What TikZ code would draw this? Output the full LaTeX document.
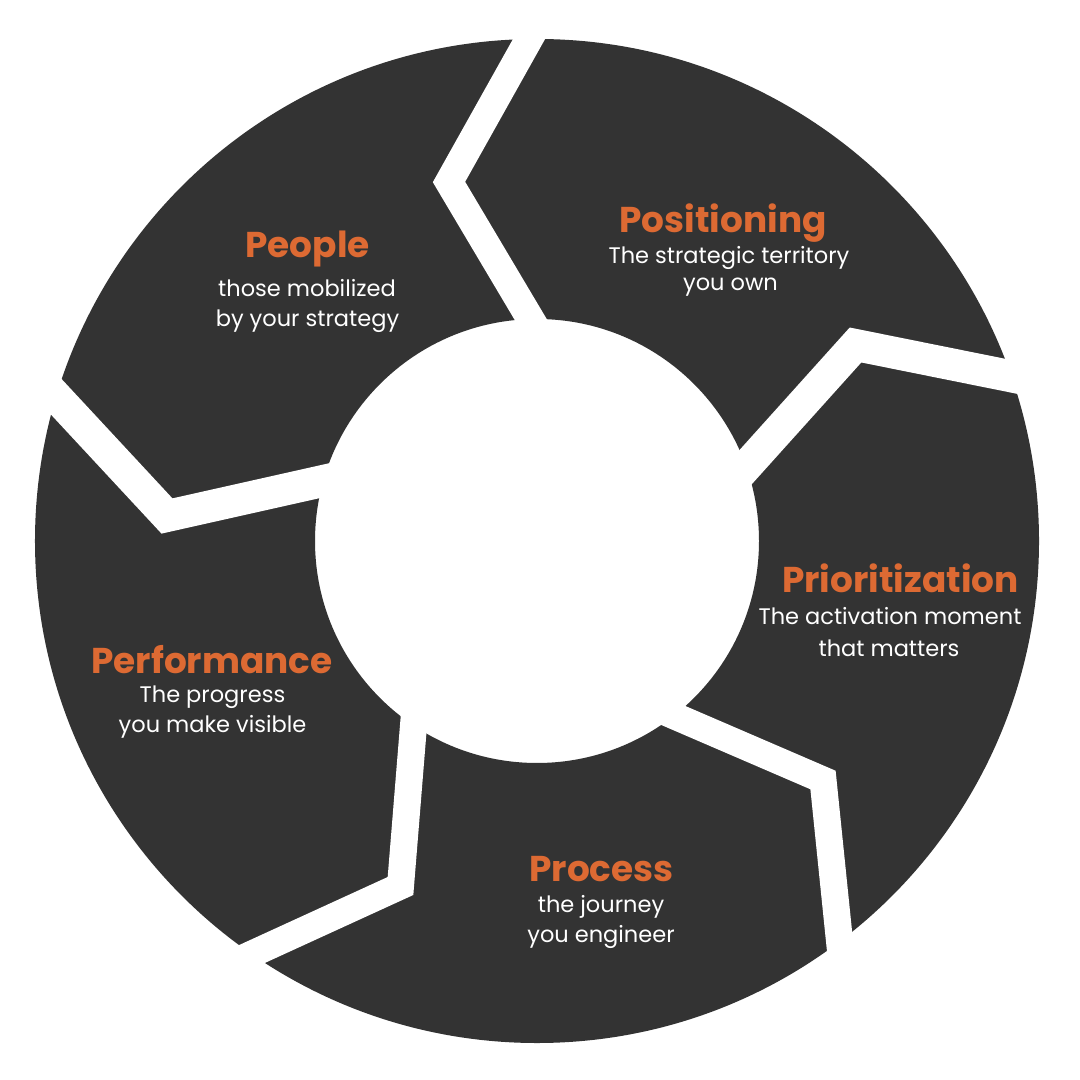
\documentclass[tikz,border=0pt]{standalone}
\usepackage{fontspec}
\setmainfont{Poppins}
\usetikzlibrary{calc}
\definecolor{ringgray}{HTML}{333333}
\definecolor{labelorange}{HTML}{DD6A33}
\tikzset{
  segtitle/.style={text=labelorange, anchor=base, inner sep=0pt,
                   font=\fontsize{10.2}{12}\selectfont\bfseries},
  segsub/.style={text=white, anchor=base, inner sep=0pt,
                 font=\fontsize{6.4}{8}\selectfont},
}

\begin{document}
\begin{tikzpicture}[x=0.01cm,y=0.01cm]

    \useasboundingbox (-537,-539) rectangle (543,541);

    \fill[ringgray, even odd rule] (0,0) circle (502) (0,0) circle (222);

    % white chevron gaps between the five parts
    \foreach \ox/\oy/\mx/\my/\ix/\iy/\w in {
        -8.5/501/-88/359/-6/221/28,
        477.5/164/318.5/196/211/76.5/32,
        303/-405/286/-239/137.5/-175/27,
        -285/-413/-136.5/-345/-123.5/-184.5/27,
        -481/144.5/-370/25/-214/60/32}{
      \coordinate (o) at (\ox,\oy);
      \coordinate (m) at (\mx,\my);
      \coordinate (i) at (\ix,\iy);
      \draw[white, line width=\w*0.01cm, line join=miter]
        ($(m)!1.35!(o)$) -- (m) -- ($(m)!1.5!(i)$);
    }

    \node[segtitle] (postitle) at (186,308) {Positioning};
    \node[segsub] (possubA) at (192,277) {The strategic territory};
    \node[segsub] (possubB) at (193.5,250) {you own};

    \node[segtitle] (pritle) at (363.5,-52) {Prioritization};
    \node[segsub] (prisubA) at (353,-84) {The activation moment};
    \node[segsub] (prisubB) at (352,-116) {that matters};

    \node[segtitle] (protitle) at (64.5,-340) {Process};
    \node[segsub] (prosubA) at (64,-371) {the journey};
    \node[segsub] (prosubB) at (64,-401) {you engineer};

    \node[segtitle] (pertitle) at (-325,-133) {Performance};
    \node[segsub] (persubA) at (-324.5,-162) {The progress};
    \node[segsub] (persubB) at (-324.5,-191) {you make visible};

    \node[segtitle] (peotitle) at (-229.5,283) {People};
    \node[segsub] (peosubA) at (-230,244) {those mobilized};
    \node[segsub] (peosubB) at (-229.5,214) {by your strategy};

\end{tikzpicture}
\end{document}
